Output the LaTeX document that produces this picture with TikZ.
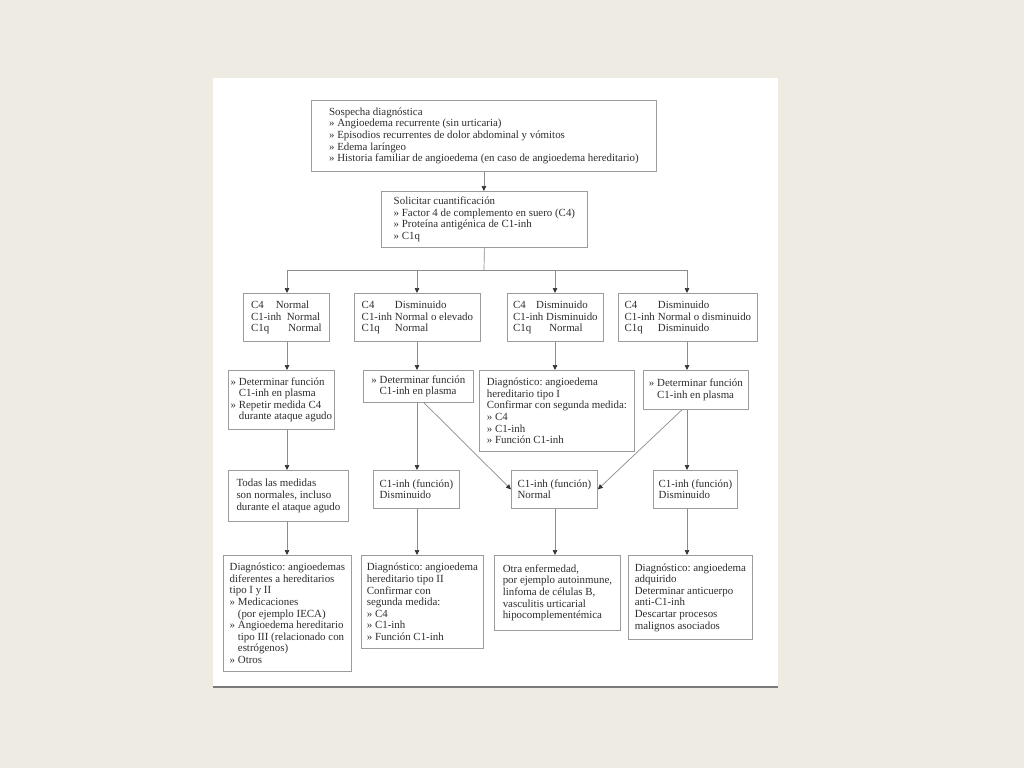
\documentclass[tikz,border=0pt]{standalone}
\usepackage{fontspec}
\setmainfont{Liberation Serif}
\usetikzlibrary{arrows.meta}
\definecolor{bgc}{HTML}{EEEBE2}
\definecolor{boxc}{HTML}{9C9C9C}
\definecolor{linec}{HTML}{8C8C8C}
\definecolor{tipc}{HTML}{333333}
\definecolor{txtc}{HTML}{2E2E2E}
\definecolor{rulec}{HTML}{7A7A7A}
\newcommand\klab[2]{\makebox[#1][l]{#2}}
\newcommand\hin{\hspace*{0.75em}}
\begin{document}
\begin{tikzpicture}[x=1pt,y=-1pt,
  bx/.style={draw=boxc, line width=0.8pt, anchor=north west, align=left,
    inner xsep=0pt, inner ysep=0pt, text=txtc,
    font=\fontsize{10.9}{11.6}\selectfont\frenchspacing},
  link/.style={draw=linec, line width=0.7pt},
  arr/.style={link, -{Triangle[length=5pt,width=4.5pt,color=tipc]}}]
\useasboundingbox (0,0) rectangle (1024,768);
\fill[bgc] (0,0) rectangle (1024,768);
\fill[white] (213,78) rectangle (778,686);
\draw[rulec, line width=2.2pt] (213,687) -- (778,687);

\coordinate (colA) at (287,0);
\coordinate (colB) at (417,0);
\coordinate (colC) at (555,0);
\coordinate (colD) at (687,0);
\coordinate (bus) at (484,270);
\coordinate (dgB) at (424,0);
\coordinate (dgD) at (682,0);

% top
\node[bx, minimum width=345pt, minimum height=71pt] (Q1) at (311,100)
 {Sospecha diagnóstica\\
  » Angioedema recurrente (sin urticaria)\\
  » Episodios recurrentes de dolor abdominal y vómitos\\
  » Edema laríngeo\\
  » Historia familiar de angioedema (en caso de angioedema hereditario)};
\node[bx, minimum width=206pt, minimum height=56pt] (Q2) at (381,191)
 {Solicitar cuantificación\\
  » Factor 4 de complemento en suero (C4)\\
  » Proteína antigénica de C1-inh\\
  » C1q};

% row 1
\node[bx, minimum width=86pt, minimum height=48pt] (A1) at (243,293)
 {C4\hspace{1.1em}Normal\\C1-inh\hspace{0.5em}Normal\\C1q\hspace{1.75em}Normal};
\node[bx, minimum width=126pt, minimum height=48pt] (B1) at (354,293)
 {\klab{3.05em}{C4}Disminuido\\\klab{3.05em}{C1-inh}Normal o elevado\\\klab{3.05em}{C1q}Normal};
\node[bx, minimum width=96pt, minimum height=48pt] (C1) at (507,293)
 {C4\hspace{0.95em}Disminuido\\C1-inh Disminuido\\C1q\hspace{1.65em}Normal};
\node[bx, minimum width=139pt, minimum height=48pt] (D1) at (618,293)
 {\klab{3.05em}{C4}Disminuido\\\klab{3.05em}{C1-inh}Normal o disminuido\\\klab{3.05em}{C1q}Disminuido};

% row 2
\node[bx, minimum width=106pt, minimum height=59pt] (A2) at (228,370)
 {» Determinar función\\\hin C1-inh en plasma\\» Repetir medida C4\\\hin durante ataque agudo};
\node[bx, minimum width=110pt, minimum height=32pt] (B2) at (363,370)
 {» Determinar función\\\hin C1-inh en plasma};
\node[bx, minimum width=155pt, minimum height=81pt] (C2) at (479,370)
 {Diagnóstico: angioedema\\hereditario tipo I\\Confirmar con segunda medida:\\» C4\\» C1-inh\\» Función C1-inh};
\node[bx, minimum width=105pt, minimum height=39pt] (D2) at (643,370)
 {» Determinar función\\\hin C1-inh en plasma};

% row 3
\node[bx, minimum width=120pt, minimum height=51pt] (A3) at (228,470)
 {Todas las medidas\\son normales, incluso\\durante el ataque agudo};
\node[bx, minimum width=86pt, minimum height=38pt] (B3) at (373,470)
 {C1-inh (función)\\Disminuido};
\node[bx, minimum width=86pt, minimum height=38pt] (C3) at (511,470)
 {C1-inh (función)\\Normal};
\node[bx, minimum width=84pt, minimum height=38pt] (D3) at (653,470)
 {C1-inh (función)\\Disminuido};

% row 4
\node[bx, minimum width=128pt, minimum height=116pt] (A4) at (223,555)
 {Diagnóstico: angioedemas\\diferentes a hereditarios\\tipo I y II\\» Medicaciones\\\hin (por ejemplo IECA)\\» Angioedema hereditario\\\hin tipo III (relacionado con\\\hin estrógenos)\\» Otros};
\node[bx, minimum width=122pt, minimum height=93pt] (B4) at (361,555)
 {Diagnóstico: angioedema\\hereditario tipo II\\Confirmar con\\segunda medida:\\» C4\\» C1-inh\\» Función C1-inh};
\node[bx, minimum width=126pt, minimum height=75pt] (C4) at (494,555)
 {Otra enfermedad,\\por ejemplo autoinmune,\\linfoma de células B,\\vasculitis urticarial\\hipocomplementémica};
\node[bx, minimum width=124pt, minimum height=84pt] (D4) at (628,555)
 {Diagnóstico: angioedema\\adquirido\\Determinar anticuerpo\\anti-C1-inh\\Descartar procesos\\malignos asociados};

% connectors
\draw[arr] (Q1.south) -- (Q1.south |- Q2.north);
\draw[link] (Q2.south) -- (bus);
\draw[link] (colA |- bus) -- (colD |- bus);
\draw[arr] (colA |- bus) -- (colA |- A1.north);
\draw[arr] (colB |- bus) -- (colB |- B1.north);
\draw[arr] (colC |- bus) -- (colC |- C1.north);
\draw[arr] (colD |- bus) -- (colD |- D1.north);

\draw[arr] (colA |- A1.south) -- (colA |- A2.north);
\draw[arr] (colA |- A2.south) -- (colA |- A3.north);
\draw[arr] (colA |- A3.south) -- (colA |- A4.north);

\draw[arr] (colB |- B1.south) -- (colB |- B2.north);
\draw[arr] (colB |- B2.south) -- (colB |- B3.north);
\draw[arr] (colB |- B3.south) -- (colB |- B4.north);
\draw[arr] (dgB |- B2.south) -- (C3.west);

\draw[arr] (colC |- C1.south) -- (colC |- C2.north);
\draw[arr] (colC |- C3.south) -- (colC |- C4.north);

\draw[arr] (colD |- D1.south) -- (colD |- D2.north);
\draw[arr] (colD |- D2.south) -- (colD |- D3.north);
\draw[arr] (colD |- D3.south) -- (colD |- D4.north);
\draw[arr] (dgD |- D2.south) -- (C3.east);
\end{tikzpicture}
\end{document}
